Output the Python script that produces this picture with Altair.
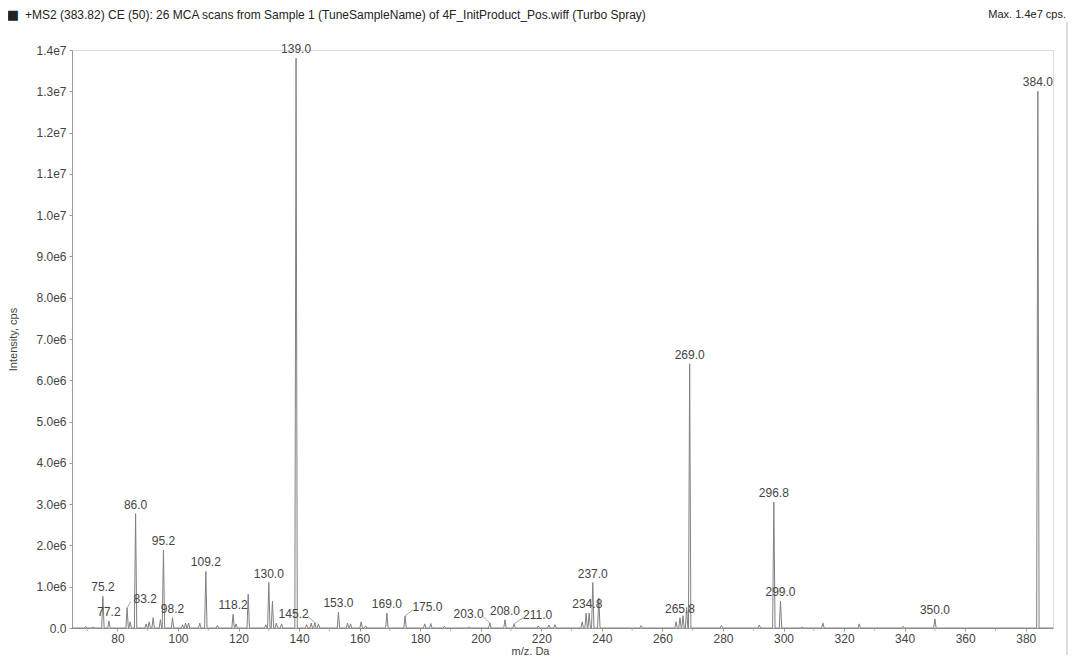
import altair as alt
import pandas as pd

# ---- data ----
peak_mz = [69.5, 72.0, 75.2, 77.2, 83.2, 84.2, 86.0, 89.5, 90.5, 91.8, 94.2, 95.2, 98.2,
           101.5, 102.5, 103.5, 107.2, 109.2, 113.0, 118.2, 119.2, 123.2, 129.0, 130.0,
           131.2, 132.5, 134.2, 139.0, 142.5, 144.0, 145.2, 146.4, 153.0, 156.0, 157.0,
           160.5, 162.0, 169.0, 175.0, 181.5, 183.5, 188.0, 196.0, 203.0, 208.0, 211.0,
           219.0, 222.5, 224.5, 233.5, 234.8, 235.8, 237.0, 239.0, 253.0, 264.5, 265.8,
           266.8, 268.0, 269.0, 279.5, 292.0, 296.8, 299.0, 306.0, 313.0, 325.0, 339.5,
           350.0, 384.0]
peak_int = [0.04e6, 0.03e6, 0.77e6, 0.17e6, 0.49e6, 0.15e6, 2.77e6, 0.10e6, 0.15e6, 0.25e6,
            0.20e6, 1.89e6, 0.25e6, 0.08e6, 0.12e6, 0.12e6, 0.12e6, 1.37e6, 0.06e6, 0.33e6,
            0.10e6, 0.82e6, 0.08e6, 1.10e6, 0.65e6, 0.12e6, 0.10e6, 13.8e6, 0.08e6, 0.12e6,
            0.13e6, 0.10e6, 0.38e6, 0.12e6, 0.10e6, 0.15e6, 0.05e6, 0.36e6, 0.29e6, 0.10e6,
            0.11e6, 0.04e6, 0.03e6, 0.12e6, 0.20e6, 0.10e6, 0.05e6, 0.07e6, 0.08e6, 0.15e6,
            0.36e6, 0.36e6, 1.10e6, 0.73e6, 0.06e6, 0.15e6, 0.25e6, 0.30e6, 0.50e6, 6.40e6,
            0.06e6, 0.07e6, 3.05e6, 0.65e6, 0.03e6, 0.12e6, 0.10e6, 0.04e6, 0.22e6, 13.0e6]

label_text = ["75.2", "77.2", "83.2", "86.0", "95.2", "98.2", "109.2", "118.2", "130.0",
              "139.0", "145.2", "153.0", "169.0", "175.0", "203.0", "208.0", "211.0",
              "234.8", "237.0", "265.8", "269.0", "296.8", "299.0", "350.0", "384.0"]
label_peak = [75.2, 77.2, 83.2, 86.0, 95.2, 98.2, 109.2, 118.2, 130.0, 139.0, 145.2, 153.0,
              169.0, 175.0, 203.0, 208.0, 211.0, 234.8, 237.0, 265.8, 269.0, 296.8, 299.0,
              350.0, 384.0]
label_x = [75.2, 77.2, 89.2, 86.0, 95.2, 98.2, 109.2, 118.2, 130.0, 139.0, 138.2, 153.0,
           169.0, 182.4, 196.0, 208.0, 218.8, 235.2, 237.0, 265.8, 269.0, 296.8, 299.0,
           350.0, 384.0]

x_ticks = [80, 100, 120, 140, 160, 180, 200, 220, 240, 260, 280, 300, 320, 340, 360, 380]
x_minor = [70, 90, 110, 130, 150, 170, 190, 210, 230, 250, 270, 290, 310, 330, 350, 370]

title_text = "+MS2 (383.82) CE (50): 26 MCA scans from Sample 1 (TuneSampleName) of 4F_InitProduct_Pos.wiff (Turbo Spray)"
max_text = "Max. 1.4e7 cps."

# ---- build tables ----
rows = [{"mz": 65.0, "intensity": 0.0}]
for m, h in sorted(zip(peak_mz, peak_int)):
    rows.append({"mz": m - 0.4, "intensity": 0.0})
    rows.append({"mz": m, "intensity": h})
    rows.append({"mz": m + 0.4, "intensity": 0.0})
rows.append({"mz": 389.0, "intensity": 0.0})
spec = pd.DataFrame(rows)

height_of = dict(zip(peak_mz, peak_int))
labels = pd.DataFrame({
    "text": label_text,
    "x": label_x,
    "peak": label_peak,
    "intensity": [height_of[p] for p in label_peak],
})

# leader lines for labels that were moved away from their peak
lead_rows = []
for t, lx, p in zip(label_text, label_x, label_peak):
    if abs(lx - p) > 1.0:
        side = -1 if lx > p else 1
        lead_rows.append({
            "x": p, "y": height_of[p],
            "x2": lx + side * 4.8, "y2": height_of[p] + 0.15e6,
        })
leads = pd.DataFrame(lead_rows)

FONT = "Liberation Sans"
W, H = 981, 578

xscale = alt.Scale(domain=[65, 389], nice=False, zero=False)
yscale = alt.Scale(domain=[0, 1.4e7], nice=False)

xaxis = alt.Axis(
    values=x_ticks, format="d", labelOverlap=False,
    title="m/z, Da", titleFont=FONT, titleFontSize=11, titleFontWeight="normal",
    titleColor="#444444", titleX=458, titleY=17,
    labelFont=FONT, labelFontSize=12, labelColor="#444444",
    domainColor="#9a9a9a", tickColor="#9a9a9a", tickSize=3, grid=False,
    labelPadding=2,
)
yaxis = alt.Axis(
    values=[i * 500000 for i in range(29)], labelOverlap=False,
    labelExpr="datum.value % 1000000 == 0 ? (datum.value == 0 ? '0.0' : replace(format(datum.value, '.1e'), '+', '')) : ''",
    title="Intensity, cps", titleFont=FONT, titleFontSize=11, titleFontWeight="normal",
    titleColor="#444444", titleX=-54,
    labelFont=FONT, labelFontSize=12, labelColor="#444444",
    domainColor="#9a9a9a", tickColor="#9a9a9a", tickSize=3, grid=False,
    labelPadding=3,
)

line = alt.Chart(spec).mark_line(color="#808080", strokeWidth=1).encode(
    x=alt.X("mz:Q", scale=xscale, axis=xaxis),
    y=alt.Y("intensity:Q", scale=yscale, axis=yaxis),
)

minor = alt.Chart(pd.DataFrame({"m": x_minor})).mark_tick(
    color="#9a9a9a", orient="vertical", size=3, thickness=1
).encode(x=alt.X("m:Q", scale=xscale), y=alt.value(H + 1.5))

lead = alt.Chart(leads).mark_rule(color="#909090", strokeWidth=0.8).encode(
    x=alt.X("x:Q", scale=xscale), y=alt.Y("y:Q", scale=yscale),
    x2="x2:Q", y2="y2:Q",
)

text = alt.Chart(labels).mark_text(
    font=FONT, fontSize=12, color="#444444", baseline="bottom", dy=-2
).encode(
    x=alt.X("x:Q", scale=xscale),
    y=alt.Y("intensity:Q", scale=yscale),
    text="text:N",
)

head = pd.DataFrame({"t": [title_text]})
title_mark = alt.Chart(head).mark_text(
    font=FONT, fontSize=12, color="#222222", align="left", baseline="middle"
).encode(x=alt.value(-47), y=alt.value(-35), text="t:N")

square = alt.Chart(pd.DataFrame({"t": ["■"]})).mark_text(
    font="DejaVu Sans", fontSize=13, color="#222222", align="center", baseline="middle"
).encode(x=alt.value(-59), y=alt.value(-35), text="t:N")

max_mark = alt.Chart(pd.DataFrame({"t": [max_text]})).mark_text(
    font=FONT, fontSize=11, color="#222222", align="right", baseline="middle"
).encode(x=alt.value(994), y=alt.value(-35), text="t:N")

border = alt.Chart(pd.DataFrame({"a": [0]})).mark_rule(color="#bbbbbb", strokeWidth=1).encode(
    x=alt.value(995), y=alt.value(-28), y2=alt.value(605)
)

chart = alt.layer(line, minor, lead, text, title_mark, square, max_mark, border).properties(
    width=W, height=H,
    padding={"left": 64, "top": 42, "right": 15, "bottom": 27},
    autosize=alt.AutoSizeParams(type="none"),
).configure_view(stroke=None).configure(background="white")

chart.save("out.html", embed_options={"renderer": "svg", "actions": False})
